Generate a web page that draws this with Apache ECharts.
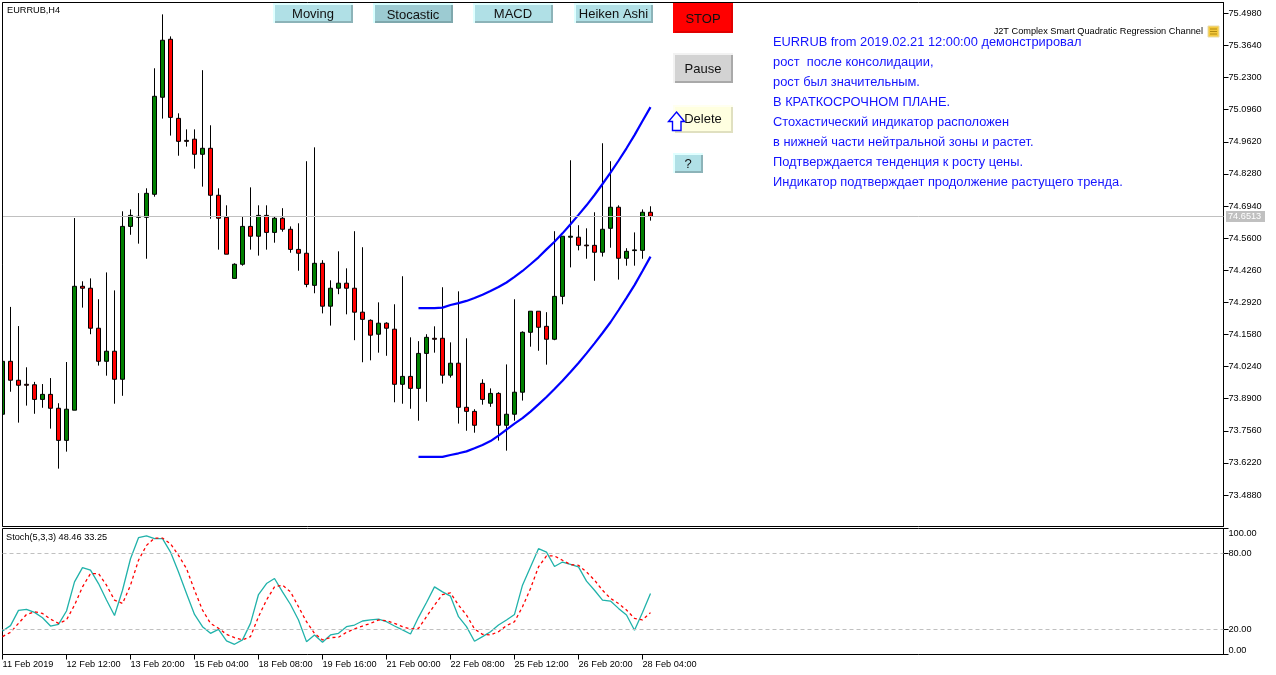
<!DOCTYPE html>
<html>
<head>
<meta charset="utf-8">
<style>html,body{margin:0;padding:0;background:#fff}#chart{width:1276px;height:675px}</style>
<script src="https://cdn.jsdelivr.net/npm/echarts@6/dist/echarts.min.js"></script>
</head>
<body>
<div id="chart"></div>
<script>
// EURRUB H4 bars, oldest first
const opens = [73.825,74.046,73.967,73.950,73.948,73.887,73.908,73.850,73.716,73.842,
74.359,74.351,74.184,74.046,74.088,73.971,74.609,74.647,74.647,74.743,
75.148,75.390,75.060,74.968,74.973,74.910,74.935,74.739,74.647,74.392,
74.451,74.609,74.568,74.655,74.584,74.643,74.597,74.513,74.497,74.363,
74.455,74.276,74.351,74.372,74.351,74.251,74.217,74.159,74.205,74.180,
73.950,73.983,73.933,74.079,74.142,74.142,73.988,74.038,73.854,73.837,
73.954,73.871,73.912,73.779,73.825,73.917,74.167,74.255,74.192,74.138,
74.317,74.564,74.564,74.531,74.530,74.501,74.601,74.689,74.476,74.508,
74.509,74.668];
const closes = [74.046,73.967,73.946,73.946,73.887,73.908,73.850,73.716,73.846,74.359,
74.351,74.184,74.046,74.088,73.971,74.609,74.655,74.651,74.747,75.152,
75.386,75.064,74.964,74.964,74.910,74.935,74.739,74.643,74.493,74.451,
74.609,74.568,74.655,74.584,74.643,74.597,74.513,74.497,74.367,74.455,
74.276,74.351,74.372,74.351,74.251,74.221,74.155,74.205,74.184,73.950,
73.983,73.933,74.079,74.146,74.138,73.988,74.038,73.854,73.837,73.779,
73.887,73.912,73.779,73.825,73.917,74.167,74.255,74.188,74.138,74.317,
74.568,74.568,74.530,74.528,74.501,74.597,74.689,74.476,74.505,74.511,
74.668,74.6513];
const lows = [73.825,73.919,73.790,73.861,73.827,73.852,73.765,73.598,73.669,73.842,
74.270,74.159,74.028,73.986,73.869,73.902,74.574,74.537,74.474,74.733,
75.059,74.988,74.904,74.942,74.850,74.775,74.641,74.512,74.493,74.392,
74.445,74.512,74.487,74.512,74.541,74.587,74.499,74.424,74.355,74.330,
74.246,74.195,74.326,74.242,74.134,74.042,74.050,74.082,74.069,73.875,
73.869,73.848,73.798,73.877,74.082,73.953,73.978,73.786,73.756,73.748,
73.865,73.856,73.715,73.673,73.798,73.882,74.107,74.090,74.032,74.134,
74.284,74.438,74.509,74.474,74.382,74.483,74.520,74.387,74.445,74.445,
74.474,74.633];
const highs = [74.046,74.273,74.193,74.021,73.960,73.951,73.976,73.871,74.043,74.644,
74.380,74.392,74.305,74.417,74.342,74.672,74.680,74.748,74.768,75.269,
75.494,75.402,75.081,75.014,75.014,75.261,75.031,74.768,74.697,74.455,
74.651,74.772,74.697,74.697,74.651,74.685,74.609,74.622,74.881,74.939,
74.468,74.384,74.505,74.434,74.589,74.522,74.221,74.292,74.209,74.284,
74.401,74.146,74.130,74.159,74.192,74.355,74.125,74.338,74.142,73.846,
73.971,73.933,73.917,74.033,74.305,74.171,74.255,74.255,74.251,74.589,
74.568,74.885,74.614,74.601,74.668,74.956,74.881,74.697,74.518,74.584,
74.680,74.693];

// Quadratic regression channel, starting at bar 52
const channelStart = 52;
const channelUpper = [74.268,74.268,74.268,74.270,74.281,74.289,74.298,74.310,74.324,74.339,
74.356,74.375,74.398,74.423,74.451,74.480,74.513,74.545,74.580,74.618,
74.657,74.697,74.740,74.786,74.833,74.883,74.935,74.990,75.049,75.107];
const channelLower = [73.647,73.647,73.647,73.647,73.655,73.662,73.670,73.683,73.697,73.713,
73.736,73.761,73.786,73.809,73.836,73.866,73.897,73.930,73.965,74.001,
74.039,74.079,74.121,74.164,74.209,74.259,74.311,74.364,74.423,74.483];

// Stochastic(5,3,3)
const stochK = [18.7,22.9,35,35.8,33.4,29.2,22.6,23.9,34.5,57.6,
69,66.9,56.3,43.2,31,51,76,92.7,94.2,91.9,
91.9,81.3,65.5,48.4,31.8,22.1,16.8,20,10.8,8.1,
11.6,24.7,47.6,56.3,60.3,49.7,39.7,27.4,10.2,15.5,
9.7,15.5,16.8,22.1,23.4,26.6,27.4,28.1,26,22.6,
19.5,16.3,29.5,41.3,53.7,49.7,46.3,30,22.1,10.5,
14.2,18.1,23.4,27.4,31.8,55,69.5,84,81.3,69.8,
73.4,71.6,69.5,58.2,51,43.2,42.4,36.6,31.3,19.2,
33.4,48.46];
const stochD = [14.2,17.6,24.7,31.8,33.9,32.6,28.1,24.7,27.4,39.2,
53.7,64.2,64.2,55,43.2,40.5,55,74.8,86.6,92.4,
92.4,87.9,78.7,68.2,51,35.3,24.7,20.8,16,13.4,
11.6,14.2,30,43.2,53.7,55,49.7,37.9,26,16.8,
11.6,13.4,13.7,17.6,20.3,22.6,24.7,27.4,26.8,24.7,
22.1,20.3,20.8,30,39.2,47.6,48.9,39.2,31.3,20.3,
16,15.5,18.1,22.9,26,37.9,52.4,69.5,78.2,78.2,
74.8,71.3,70.8,65.5,59,51,44.5,40.5,35.3,28.7,
27.4,33.25];
const stochLevels = [80, 20];
const stochTicks = [0, 20, 80, 100];

const bidPrice = 74.6513;
const priceTicks = [73.488,73.622,73.756,73.89,74.024,74.158,74.292,74.426,74.56,74.694,74.828,74.962,75.096,75.23,75.364,75.498];
const timeLabels = ['11 Feb 2019','12 Feb 12:00','13 Feb 20:00','15 Feb 04:00','18 Feb 08:00','19 Feb 16:00','21 Feb 00:00','22 Feb 08:00','25 Feb 12:00','26 Feb 20:00','28 Feb 04:00'];
const barsPerLabel = 8;

const commentLines = [
  'EURRUB from 2019.02.21 12:00:00 демонстрировал',
  'рост  после консолидации,',
  'рост был значительным.',
  'В КРАТКОСРОЧНОМ ПЛАНЕ.',
  'Стохастический индикатор расположен',
  'в нижней части нейтральной зоны и растет.',
  'Подтверждается тенденция к росту цены.',
  'Индикатор подтверждает продолжение растущего тренда.'
];

const buttonRows = [
  {label:'Moving', x:273, y:3, w:80, h:20, face:'#b0e0e6', light:'#e0ffff', dark:'#8cb3b8'},
  {label:'Stocastic', x:373, y:3, w:80, h:20, face:'#9ccbd2', light:'#d8ffff', dark:'#7fa8ad', dy:1},
  {label:'MACD', x:473, y:3, w:80, h:20, face:'#b0e0e6', light:'#e0ffff', dark:'#8cb3b8'},
  {label:'Heiken Ashi', x:574, y:3, w:79, h:20, face:'#b0e0e6', light:'#e0ffff', dark:'#8cb3b8'},
  {label:'STOP', x:673, y:3, w:60, h:30, face:'#ff0000', light:'#ff0000', dark:'#e00000'},
  {label:'Pause', x:673, y:53, w:60, h:30, face:'#d3d3d3', light:'#f2f2f2', dark:'#a9a9a9'},
  {label:'Delete', x:673, y:105, w:60, h:28, face:'#ffffe0', light:'#fffff0', dark:'#e0e0c0', dy:-1},
  {label:'?', x:673, y:153, w:30, h:20, face:'#b0e0e6', light:'#e0ffff', dark:'#8cb3b8'}
];

const sansFont = '"Liberation Sans", Arial, sans-serif';
const smallPx = 9.2;
const smallFont = {fontFamily: sansFont, fontSize: smallPx, color: '#000'};

function buttonGraphics() {
  const out = [];
  buttonRows.forEach(b => {
    out.push({type:'rect', shape:{x:b.x,y:b.y,width:b.w,height:b.h}, style:{fill:b.light}, silent:true});
    out.push({type:'rect', shape:{x:b.x+2,y:b.y+2,width:b.w-2,height:b.h-2}, style:{fill:b.dark}, silent:true});
    out.push({type:'rect', shape:{x:b.x+2,y:b.y+2,width:b.w-4,height:b.h-4}, style:{fill:b.face}, silent:true});
    out.push({type:'text', x:b.x+b.w/2, y:b.y+b.h/2+1+(b.dy||0), silent:true,
      style:{text:b.label, fill:'#111', font:'13px '+sansFont, textAlign:'center', textVerticalAlign:'middle'}});
  });
  return out;
}

function overlayGraphics() {
  const items = buttonGraphics();
  // Keeps the half-hidden first bar inside the frame
  items.push({type:'rect', z:100, silent:true, shape:{x:0,y:3,width:2,height:523}, style:{fill:'#fff'}});
  items.push({type:'line', z:100, silent:true, shape:{x1:2.5,y1:2.5,x2:2.5,y2:526.5}, style:{stroke:'#000', lineWidth:1}});
  // Chart-object arrow over the Delete button
  items.push({type:'polygon', silent:true,
    shape:{points:[[676.5,112],[684.5,121.5],[681,121.5],[681,130.5],[672.5,130.5],[672.5,121.5],[668.5,121.5]]},
    style:{fill:'#fff', stroke:'#0000ff', lineWidth:1.4}});
  commentLines.forEach((t, i) => {
    items.push({type:'text', x:773, y:42+20*i, silent:true,
      style:{text:t, fill:'#1414ff', font:'12.85px '+sansFont, textVerticalAlign:'middle'}});
  });
  const small = smallPx + 'px ' + sansFont;
  items.push({type:'text', x:7, y:10, silent:true, style:{text:'EURRUB,H4', fill:'#000', font:small, textVerticalAlign:'middle'}});
  items.push({type:'text', x:6, y:537.5, silent:true, style:{text:'Stoch(5,3,3) 48.46 33.25', fill:'#000', font:small, textVerticalAlign:'middle'}});
  items.push({type:'text', x:1203, y:31.5, silent:true, style:{text:'J2T Complex Smart Quadratic Regression Channel', fill:'#000', font:small, textAlign:'right', textVerticalAlign:'middle'}});
  // Small scroll icon after the indicator name
  items.push({type:'rect', silent:true, shape:{x:1208,y:26,width:11,height:11}, style:{fill:'#f5c93c', stroke:'#e8dcae', lineWidth:1}});
  [29,31.5,34].forEach(y => items.push({type:'line', silent:true, shape:{x1:1210,y1:y,x2:1217,y2:y}, style:{stroke:'#b08a10', lineWidth:1}}));
  // Current price tag
  items.push({type:'rect', silent:true, shape:{x:1226,y:211,width:39,height:11}, style:{fill:'#c0c0c0'}});
  items.push({type:'text', x:1228, y:216.5, silent:true, style:{text:bidPrice.toFixed(4), fill:'#fff', font:small, textVerticalAlign:'middle'}});
  return items;
}

const xMax = 1221 / 8;
const candleRows = opens.map((o, i) => [i, o, closes[i], lows[i], highs[i]]);
const channelRow = arr => arr.map((v, i) => [channelStart + i, v]);
const stochRow = arr => arr.map((v, i) => [i, v]);
const labelBars = timeLabels.map((_, i) => i * barsPerLabel);

const chart = echarts.init(document.getElementById('chart'), null, {renderer:'canvas'});
chart.setOption({
  animation:false,
  backgroundColor:'#fff',
  grid:[
    {left:2.5, top:2.5, width:1221, height:524, show:true, borderColor:'#000', borderWidth:1, backgroundColor:'#fff', outerBoundsMode:'none'},
    {left:2.5, top:528.5, width:1221, height:126, show:true, borderColor:'#000', borderWidth:1, backgroundColor:'#fff', outerBoundsMode:'none'}
  ],
  xAxis:[
    {type:'value', gridIndex:0, min:0, max:xMax, axisLine:{show:false}, axisTick:{show:false}, axisLabel:{show:false}, splitLine:{show:false}},
    {type:'value', gridIndex:1, min:0, max:xMax, axisLine:{show:false}, splitLine:{show:false},
     axisTick:{show:true, length:5, customValues:labelBars, lineStyle:{color:'#000', width:1}},
     axisLabel:{show:true, customValues:labelBars, margin:5, align:'left', formatter:v => timeLabels[Math.round(v/barsPerLabel)], ...smallFont}}
  ],
  yAxis:[
    {type:'value', gridIndex:0, position:'right', min:73.3565, max:75.5435, splitLine:{show:false},
     axisLine:{show:true, onZero:false, lineStyle:{color:'#000'}},
     axisTick:{show:true, length:5, customValues:priceTicks, lineStyle:{color:'#000', width:1}},
     axisLabel:{show:true, customValues:priceTicks, margin:5, formatter:v => v.toFixed(4), ...smallFont}},
    {type:'value', gridIndex:1, position:'right', min:0, max:100, splitLine:{show:false},
     axisLine:{show:true, onZero:false, lineStyle:{color:'#000'}},
     axisTick:{show:true, length:5, customValues:stochTicks, lineStyle:{color:'#000', width:1}},
     axisLabel:{show:true, customValues:stochTicks, margin:5, verticalAlignMinLabel:'bottom', verticalAlignMaxLabel:'top', formatter:v => v.toFixed(2), ...smallFont}}
  ],
  series:[
    {type:'line', name:'Bid', xAxisIndex:0, yAxisIndex:0, data:[[0,bidPrice]], showSymbol:false, silent:true, z:1,
     markLine:{silent:true, symbol:'none', label:{show:false}, animation:false, lineStyle:{color:'#c0c0c0', type:'solid', width:1}, data:[{yAxis:bidPrice}]}},
    {type:'candlestick', name:'EURRUB', xAxisIndex:0, yAxisIndex:0, data:candleRows, encode:{x:0, y:[1,2,3,4]},
     barWidth:4, clip:true, z:2,
     itemStyle:{color:'#008000', color0:'#ff0000', borderColor:'#000', borderColor0:'#000', borderWidth:1}},
    {type:'line', name:'Upper', xAxisIndex:0, yAxisIndex:0, data:channelRow(channelUpper), showSymbol:false, z:3, lineStyle:{color:'#0000ff', width:2.2}},
    {type:'line', name:'Lower', xAxisIndex:0, yAxisIndex:0, data:channelRow(channelLower), showSymbol:false, z:3, lineStyle:{color:'#0000ff', width:2.2}},
    {type:'line', name:'%K', xAxisIndex:1, yAxisIndex:1, data:stochRow(stochK), showSymbol:false, z:3, lineStyle:{color:'#20b2aa', width:1.3},
     markLine:{silent:true, symbol:'none', label:{show:false}, animation:false, lineStyle:{color:'#c0c0c0', type:[4,3], width:1}, data:stochLevels.map(v => ({yAxis:v}))}},
    {type:'line', name:'%D', xAxisIndex:1, yAxisIndex:1, data:stochRow(stochD), showSymbol:false, z:3, lineStyle:{color:'#ff0000', width:1.3, type:[3,3]}}
  ],
  graphic:overlayGraphics()
});
</script>
</body>
</html>
